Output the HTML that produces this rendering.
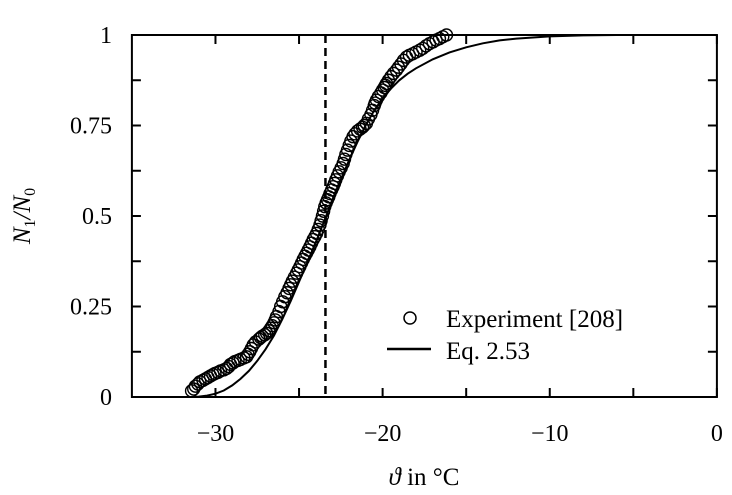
<!DOCTYPE html>
<html><head><meta charset="utf-8"><style>
html,body{margin:0;padding:0;background:#fff;}
svg{display:block;font-family:"Liberation Serif",serif;}
</style></head><body>
<svg id="chart" width="732" height="495" viewBox="0 0 732 495" xmlns="http://www.w3.org/2000/svg">
<g id="marks"></g>
<rect x="131.9" y="35" width="585" height="362" fill="none" stroke="#000" stroke-width="2"/>
<g id="axes"></g>
<text transform="translate(30,216) rotate(-90)" text-anchor="middle" font-size="25" font-style="italic">N<tspan font-size="16" dy="5" font-style="normal">1</tspan><tspan dy="-5">/N</tspan><tspan font-size="16" dy="5" font-style="normal">0</tspan></text>
<text x="424" y="485" text-anchor="middle" font-size="25"><tspan font-style="italic">ϑ</tspan> in °C</text>
<g>
<circle cx="410" cy="318" r="6" fill="none" stroke="#000" stroke-width="1.5"/>
<text x="446" y="327" font-size="25">Experiment [208]</text>
<line x1="387" y1="349" x2="431" y2="349" stroke="#000" stroke-width="2.5"/>
<text x="446" y="359" font-size="25">Eq. 2.53</text>
</g>
</svg>
<script>
const xTicks=[-30,-20,-10,0];
const xTickLabels=["−30","−20","−10","0"];
const yTicks=[0,0.25,0.5,0.75,1];
const yTickLabels=["0","0.25","0.5","0.75","1"];
const yMinorTicks=[0.125,0.375,0.625,0.875];
const xMinorTicks=[-25,-15,-5];
const thresholdX=-23.42;
const expX=[-31.43,-31.3,-31.2,-31.05,-30.93,-30.75,-30.6,-30.45,-30.3,-30.15,-30.03,-29.85,-29.7,-29.5,-29.33,-29.2,-29.1,-28.95,-28.84,-28.65,-28.5,-28.3,-28.14,-28.05,-27.95,-27.85,-27.74,-27.6,-27.4,-27.3,-27.2,-27.05,-26.94,-26.8,-26.7,-26.6,-26.5,-26.42,-26.35,-26.2,-26.1,-25.98,-25.85,-25.72,-25.6,-25.5,-25.4,-25.28,-25.15,-25.05,-24.95,-24.85,-24.75,-24.65,-24.55,-24.45,-24.35,-24.25,-24.15,-24.05,-23.95,-23.85,-23.75,-23.68,-23.6,-23.53,-23.46,-23.38,-23.3,-23.22,-23.15,-23.05,-22.96,-22.88,-22.8,-22.7,-22.6,-22.48,-22.36,-22.28,-22.2,-22.1,-22.0,-21.9,-21.77,-21.65,-21.5,-21.35,-21.2,-21.1,-20.97,-20.85,-20.7,-20.6,-20.5,-20.45,-20.37,-20.25,-20.1,-20.0,-19.9,-19.83,-19.77,-19.65,-19.5,-19.35,-19.17,-19.05,-18.9,-18.75,-18.57,-18.4,-18.2,-18.0,-17.78,-17.6,-17.4,-17.2,-16.98,-16.8,-16.6,-16.4,-16.18];
const expY=[0.017,0.022,0.03,0.036,0.042,0.046,0.05,0.054,0.058,0.062,0.065,0.068,0.072,0.075,0.079,0.084,0.09,0.094,0.098,0.101,0.104,0.108,0.111,0.118,0.125,0.134,0.144,0.152,0.16,0.164,0.168,0.172,0.176,0.183,0.19,0.197,0.205,0.213,0.222,0.236,0.25,0.263,0.277,0.288,0.3,0.31,0.32,0.331,0.342,0.351,0.36,0.37,0.38,0.389,0.397,0.406,0.415,0.425,0.435,0.443,0.452,0.463,0.475,0.487,0.5,0.513,0.526,0.536,0.545,0.553,0.562,0.572,0.581,0.59,0.6,0.611,0.622,0.633,0.645,0.657,0.67,0.682,0.695,0.707,0.719,0.727,0.735,0.74,0.745,0.75,0.756,0.768,0.78,0.792,0.805,0.812,0.82,0.83,0.84,0.848,0.855,0.861,0.866,0.875,0.885,0.894,0.903,0.911,0.92,0.93,0.939,0.944,0.948,0.953,0.958,0.963,0.97,0.976,0.981,0.986,0.99,0.995,1.0];
const curveX=[-35,-31.5,-31,-30.5,-30,-29.5,-29,-28.5,-28,-27.5,-27,-26.5,-26,-25.5,-25,-24.5,-24,-23.5,-23,-22.5,-22,-21.5,-21,-20.5,-20,-19.5,-19,-18.5,-18,-17,-16,-15,-14,-13,-12,-10,-8,-6,-4,0];
const curveY=[0,0,0.001,0.004,0.009,0.018,0.032,0.05,0.072,0.1,0.132,0.17,0.215,0.265,0.318,0.372,0.428,0.485,0.545,0.6,0.655,0.705,0.752,0.792,0.825,0.852,0.875,0.893,0.908,0.933,0.952,0.966,0.977,0.985,0.99,0.996,0.999,1,1,1];
const NS="http://www.w3.org/2000/svg";
const X0=131.9,X1=716.9,Y0=397,Y1=35;
function sx(v){return X0+(v+35)/35*(X1-X0);}
function sy(v){return Y0-v*(Y0-Y1);}
function mk(t,a,p){const e=document.createElementNS(NS,t);for(const k in a)e.setAttribute(k,a[k]);p.appendChild(e);return e;}
const axes=document.getElementById('axes'),marks=document.getElementById('marks');
xTicks.forEach((v,i)=>{
 const t1=mk('line',{x1:sx(v),x2:sx(v),y1:Y0,y2:Y0-9,stroke:'#000','stroke-width':2},axes);
 
 
 const t2=mk('line',{x1:sx(v),x2:sx(v),y1:Y1,y2:Y1+9,stroke:'#000','stroke-width':2},axes);
 
 
 const l=mk('text',{x:sx(v),y:441,'text-anchor':'middle','font-size':24},axes);
 l.textContent=xTickLabels[i];
 
 
});
xMinorTicks.forEach(v=>{
 const t1=mk('line',{x1:sx(v),x2:sx(v),y1:Y0,y2:Y0-9,stroke:'#000','stroke-width':2},axes);
 
 
 const t2=mk('line',{x1:sx(v),x2:sx(v),y1:Y1,y2:Y1+9,stroke:'#000','stroke-width':2},axes);
 
 
});
yTicks.concat(yMinorTicks).forEach(v=>{
 const t1=mk('line',{x1:X0,x2:X0+9,y1:sy(v),y2:sy(v),stroke:'#000','stroke-width':2},axes);
 
 
 const t2=mk('line',{x1:X1,x2:X1-9,y1:sy(v),y2:sy(v),stroke:'#000','stroke-width':2},axes);
 
 
});
yTicks.forEach((v,i)=>{
 const l=mk('text',{x:112,y:sy(v)+8,'text-anchor':'end','font-size':24},axes);
 l.textContent=yTickLabels[i];
 
 
});
const dl=mk('line',{x1:sx(thresholdX),x2:sx(thresholdX),y1:Y1,y2:Y0,stroke:'#000','stroke-width':2.5,'stroke-dasharray':'8,5'},marks);


const cp=mk('path',{d:curveX.map((v,i)=>(i?'L':'M')+sx(v).toFixed(1)+','+sy(curveY[i]).toFixed(1)).join(''),fill:'none',stroke:'#000','stroke-width':2},marks);


expX.forEach((v,i)=>{
 const c=mk('circle',{cx:sx(v),cy:sy(expY[i]),r:6,fill:'none',stroke:'#000','stroke-width':1.4},marks);
 
 
});
</script>
</body></html>
